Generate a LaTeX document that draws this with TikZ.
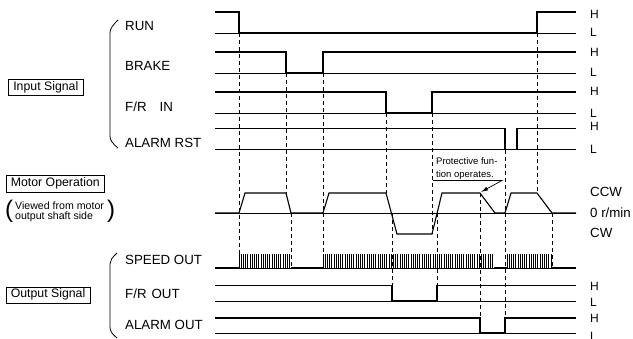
\documentclass[tikz,border=0pt]{standalone}
\usepackage{fontspec}
\setmainfont{Liberation Sans}
\usetikzlibrary{arrows.meta}
\begin{document}
\begin{tikzpicture}[x=1pt,y=-1pt,
  base/.style={line width=0.7pt},
  wave/.style={line width=1.1pt, line join=miter},
  dsh/.style={line width=0.7pt, dash pattern=on 4pt off 3pt},
  pulse/.style={line width=0.75pt},
  lbl/.style={font=\fontsize{13.3}{15}\selectfont, anchor=base west, inner sep=0},
  hl/.style={font=\fontsize{12}{14}\selectfont, anchor=base west, inner sep=0},
  box/.style={draw, line width=0.6pt, font=\fontsize{12.3}{14}\selectfont, inner sep=0, anchor=north west},
  brk/.style={line width=0.8pt},
  small/.style={font=\fontsize{10.6}{11}\selectfont, anchor=base west, inner sep=0},
  prot/.style={font=\fontsize{9.5}{10}\selectfont, anchor=base west, inner sep=0}
]
\useasboundingbox (0,0) rectangle (633,338);

% ---- left boxes and labels
\node[box, minimum width=75pt, minimum height=16pt] (inbox) at (8,79) {Input Signal};
\node[box, minimum width=98pt, minimum height=17pt] (motbox) at (6,175) {Motor Operation};
\node[box, minimum width=83.5pt, minimum height=16pt] (outbox) at (6,286.5) {Output Signal};

\node[anchor=base west, inner sep=0, font=\fontsize{24}{24}\selectfont] (lp) at (5,217) {(};
\node[anchor=base west, inner sep=0, font=\fontsize{24}{24}\selectfont] (rp) at (107,217) {)};
\node[small] (v1) at (15,209) {Viewed from motor};
\node[small] (v2) at (15,219) {output shaft side};

% brackets
\draw[brk] (118,20) .. controls (112,26) and (110,29) .. (110,33) -- (110,136) .. controls (110,140) and (112,143) .. (118,148);
\draw[brk] (117,253) .. controls (112,258) and (110,260) .. (110,264) -- (110,327) .. controls (110,331) and (112,334) .. (117,338);

\node[lbl] (lrun) at (125,30) {RUN};
\node[lbl] (lbrk) at (125,70) {BRAKE};
\node[lbl] (lfr) at (125,111) {F/R\hspace{13pt}IN};
\node[lbl] (lar) at (125,147) {ALARM RST};
\node[lbl] (lsp) at (125,264) {SPEED OUT};
\node[lbl] (lfro) at (125,298) {F/R\hspace{5pt}OUT};
\node[lbl] (lao) at (125,329) {ALARM OUT};

% ---- right labels
\foreach \y/\t in {18.5/H,36/L,56/H,76/L,95/H,117/L,130/H,153/L,290/H,306.5/L,322.5/H,340/L}
  \node[hl] at (590,\y) {\t};
\node[lbl] (ccw) at (590,196) {CCW};
\node[lbl] (zero) at (590,217.5) {0 r/min};
\node[lbl] (cw) at (590,237.5) {CW};

% ---- base lines
\foreach \y in {33,73,113,149.5,213,268,301,333}
  \draw[base] (215,\y) -- (576,\y);

% ---- waveforms
\draw[wave] (215,12) -- (239,12) -- (239,33) -- (537,33) -- (537,12) -- (576,12);
\draw[wave] (215,52) -- (286,52) -- (286,73) -- (323,73) -- (323,52) -- (576,52);
\draw[wave] (215,92) -- (386,92) -- (386,113) -- (432,113) -- (432,92) -- (576,92);
\draw[wave] (215,128.5) -- (505,128.5) -- (505,149.5) -- (517,149.5) -- (517,128.5) -- (576,128.5);
\draw[wave] (215,213) -- (239,213) -- (245,193) -- (286,193) -- (291,213) -- (323,213)
  -- (329,193) -- (386,193) -- (397,234) -- (432,234) -- (442,193) -- (480,193)
  -- (495,213) -- (505,213) -- (511,193) -- (537,193) -- (552,213) -- (576,213);
\draw[wave] (215,285.5) -- (392,285.5) -- (392,301) -- (437,301) -- (437,285.5) -- (576,285.5);
\draw[wave] (215,318) -- (480,318) -- (480,333) -- (505,333) -- (505,318) -- (576,318);

% speed out pulses
\foreach \x in {239,241.2,...,291} \draw[pulse] (\x,254) -- (\x,268);
\foreach \x in {323,325.2,...,494} \draw[pulse] (\x,254) -- (\x,268);
\foreach \x in {507,509.2,...,552} \draw[pulse] (\x,254) -- (\x,268);
\draw[wave] (215,268) -- (239,268);
\draw[wave] (291,268) -- (323,268);
\draw[wave] (494,268) -- (507,268);
\draw[wave] (552,268) -- (576,268);

% ---- dashed guides
\draw[dsh] (239,33) -- (239,268);
\draw[dsh] (286,73) -- (286,193);
\draw[dsh] (291,213) -- (291,268);
\draw[dsh] (323,73) -- (323,268);
\draw[dsh] (386,113) -- (386,193);
\draw[dsh] (392,213) -- (392,301);
\draw[dsh] (432,113) -- (432,234);
\draw[dsh] (437,213) -- (437,301);
\draw[dsh] (480,193) -- (480,333);
\draw[dsh] (505,149.5) -- (505,333);
\draw[dsh] (537,33) -- (537,193);
\draw[dsh] (552,213) -- (552,268);

% ---- protective function note
\node[prot] (p1) at (436,164) {Protective fun-};
\node[prot] (p2) at (436,177) {tion operates.};
\coordinate (tip) at (481,192);
\draw[line width=0.7pt, -{Latex[length=7pt,width=4pt]}] (433,180.5) -- (502,180.5) -- (tip);
\end{tikzpicture}
\end{document}
